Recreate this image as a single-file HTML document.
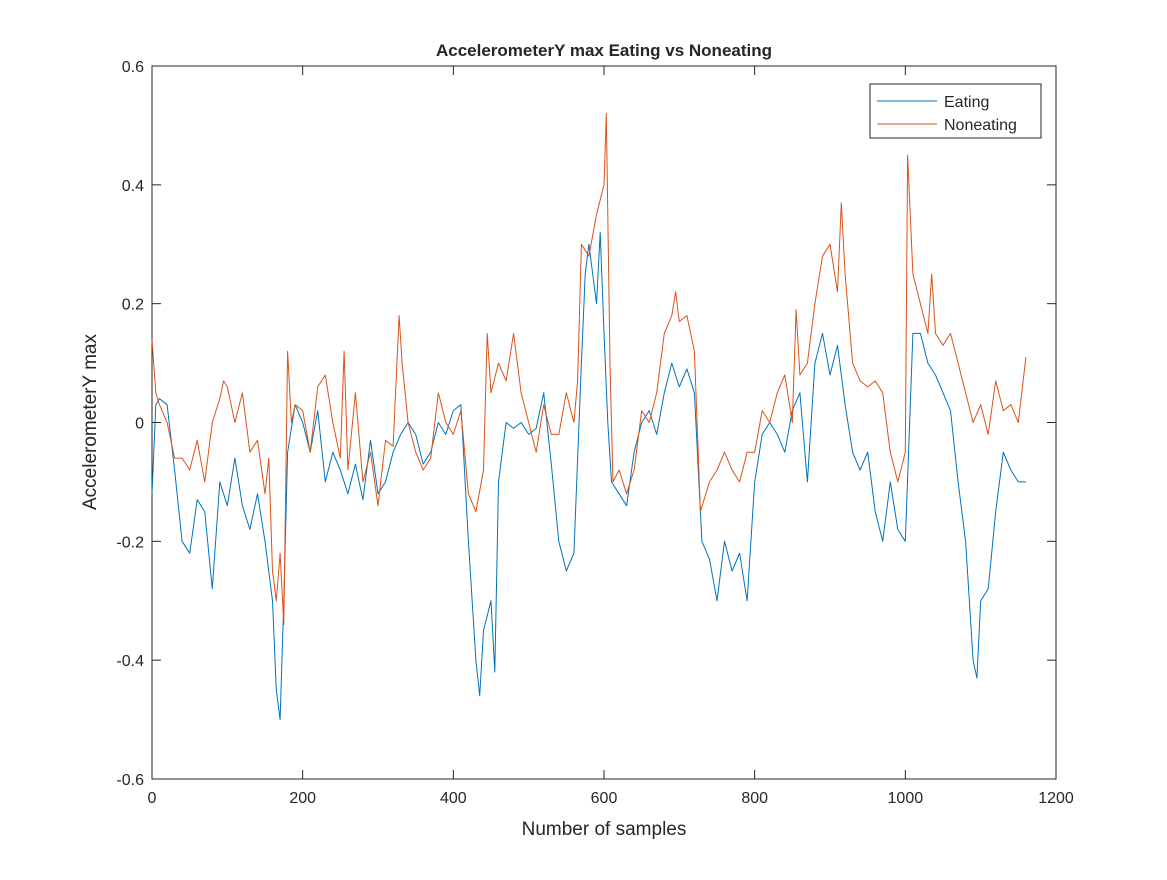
<!DOCTYPE html>
<html><head><meta charset="utf-8"><style>
body{margin:0;background:#fff;}
svg text{font-family:"Liberation Sans",Arial,sans-serif;fill:#262626;}
</style></head><body>
<svg width="1167" height="875" viewBox="0 0 1167 875" xmlns="http://www.w3.org/2000/svg">
<rect width="1167" height="875" fill="#fff"/>
<g id="plot"></g>
</svg>
<script>
const xTicks=[0,200,400,600,800,1000,1200];
const yTicks=[-0.6,-0.4,-0.2,0,0.2,0.4,0.6];
const yTickLabels=['-0.6','-0.4','-0.2','0','0.2','0.4','0.6'];
const eatingX=[0,5,10,20,30,40,50,60,70,80,90,100,110,120,130,140,150,160,165,170,175,180,190,200,210,220,230,240,250,260,270,280,290,300,310,320,330,340,350,360,370,380,390,400,410,420,430,435,440,450,455,460,470,480,490,500,510,520,530,540,550,560,570,575,580,590,595,600,605,610,620,630,640,650,660,670,680,690,700,710,720,730,740,750,760,770,780,790,800,810,820,830,840,850,860,870,880,890,900,910,920,930,940,950,960,970,980,990,1000,1010,1020,1030,1040,1050,1060,1070,1080,1090,1095,1100,1110,1120,1130,1140,1150,1160];
const eatingY=[-0.12,0.03,0.04,0.03,-0.08,-0.2,-0.22,-0.13,-0.15,-0.28,-0.1,-0.14,-0.06,-0.14,-0.18,-0.12,-0.2,-0.3,-0.45,-0.5,-0.3,-0.05,0.03,0.0,-0.05,0.02,-0.1,-0.05,-0.08,-0.12,-0.07,-0.13,-0.03,-0.12,-0.1,-0.05,-0.02,0.0,-0.02,-0.07,-0.05,0.0,-0.02,0.02,0.03,-0.2,-0.4,-0.46,-0.35,-0.3,-0.42,-0.1,0.0,-0.01,0.0,-0.02,-0.01,0.05,-0.07,-0.2,-0.25,-0.22,0.1,0.25,0.3,0.2,0.32,0.15,0.0,-0.1,-0.12,-0.14,-0.05,0.0,0.02,-0.02,0.05,0.1,0.06,0.09,0.05,-0.2,-0.23,-0.3,-0.2,-0.25,-0.22,-0.3,-0.1,-0.02,0.0,-0.02,-0.05,0.02,0.05,-0.1,0.1,0.15,0.08,0.13,0.03,-0.05,-0.08,-0.05,-0.15,-0.2,-0.1,-0.18,-0.2,0.15,0.15,0.1,0.08,0.05,0.02,-0.1,-0.2,-0.4,-0.43,-0.3,-0.28,-0.15,-0.05,-0.08,-0.1,-0.1];
const nonX=[0,5,10,20,30,40,50,60,70,80,90,95,100,110,120,130,140,150,155,160,165,170,175,180,185,190,200,210,220,230,240,250,255,260,270,280,290,300,310,320,328,332,340,350,360,370,380,390,400,410,420,430,440,445,450,460,470,480,490,500,510,520,530,540,550,560,565,570,580,590,600,603,608,612,620,630,640,650,660,670,680,690,695,700,710,720,728,740,750,760,770,780,790,800,810,820,830,840,850,855,860,870,880,890,900,910,915,920,930,940,950,960,970,980,990,1000,1003,1010,1020,1030,1035,1040,1050,1060,1070,1080,1090,1100,1110,1120,1130,1140,1150,1160];
const nonY=[0.14,0.05,0.03,0.0,-0.06,-0.06,-0.08,-0.03,-0.1,0.0,0.04,0.07,0.06,0.0,0.05,-0.05,-0.03,-0.12,-0.06,-0.25,-0.3,-0.22,-0.34,0.12,0.0,0.03,0.02,-0.05,0.06,0.08,0.0,-0.06,0.12,-0.08,0.05,-0.1,-0.05,-0.14,-0.03,-0.04,0.18,0.1,0.0,-0.05,-0.08,-0.06,0.05,0.0,-0.02,0.02,-0.12,-0.15,-0.08,0.15,0.05,0.1,0.07,0.15,0.05,0.0,-0.05,0.03,-0.02,-0.02,0.05,0.0,0.07,0.3,0.28,0.35,0.4,0.52,0.1,-0.1,-0.08,-0.12,-0.08,0.02,0.0,0.05,0.15,0.18,0.22,0.17,0.18,0.12,-0.15,-0.1,-0.08,-0.05,-0.08,-0.1,-0.05,-0.05,0.02,0.0,0.05,0.08,0.0,0.19,0.08,0.1,0.2,0.28,0.3,0.22,0.37,0.25,0.1,0.07,0.06,0.07,0.05,-0.05,-0.1,-0.05,0.45,0.25,0.2,0.15,0.25,0.15,0.13,0.15,0.1,0.05,0.0,0.03,-0.02,0.07,0.02,0.03,0.0,0.11];

const L=152,R=1056,T=66,B=779;
const xs=v=>L+(v-0)/(1200)*(R-L);
const ys=v=>B-(v+0.6)/1.2*(B-T);
const ns='http://www.w3.org/2000/svg';
const g=document.getElementById('plot');
function mk(t,a){const e=document.createElementNS(ns,t);for(const k in a)e.setAttribute(k,a[k]);g.appendChild(e);return e;}
let e=mk('rect',{x:L,y:T,width:R-L,height:B-T,fill:'none',stroke:'#262626','stroke-width':1});


xTicks.forEach(v=>{const x=xs(v);
 let t=mk('line',{x1:x,x2:x,y1:B,y2:B-9,stroke:'#262626'});
 t=mk('line',{x1:x,x2:x,y1:T,y2:T+9,stroke:'#262626'});
 const l=mk('text',{x:x,y:B+24,'text-anchor':'middle','font-size':16});l.textContent=v;
 });
yTicks.forEach((v,i)=>{const y=ys(v);
 let t=mk('line',{x1:L,x2:L+9,y1:y,y2:y,stroke:'#262626'});
 t=mk('line',{x1:R,x2:R-9,y1:y,y2:y,stroke:'#262626'});
 const l=mk('text',{x:L-8,y:y+6,'text-anchor':'end','font-size':16});l.textContent=yTickLabels[i];
 });
function series(X,Y,c,name){const d=X.map((x,i)=>(i?'L':'M')+xs(x).toFixed(1)+' '+ys(Y[i]).toFixed(1)).join('');
 const p=mk('path',{d:d,fill:'none',stroke:c,'stroke-width':1,'stroke-linejoin':'round'});
 }
series(eatingX,eatingY,'#0072BD','eating-line');
series(nonX,nonY,'#D95319','noneating-line');
let tt=mk('text',{x:604,y:56,'text-anchor':'middle','font-size':17,'font-weight':'bold',fill:'#000'});tt.textContent='AccelerometerY max Eating vs Noneating';

tt=mk('text',{x:604,y:835,'text-anchor':'middle','font-size':19});tt.textContent='Number of samples';

tt=mk('text',{x:0,y:0,'text-anchor':'middle','font-size':19,transform:'translate(96,422) rotate(-90)'});tt.textContent='AccelerometerY max';

let lg=mk('rect',{x:870,y:84,width:171,height:54,fill:'#fff',stroke:'#262626'});

[['Eating','#0072BD',101],['Noneating','#D95319',124]].forEach(([n,c,y])=>{
 let l=mk('line',{x1:877,x2:937,y1:y,y2:y,stroke:c});
 let t=mk('text',{x:944,y:y+6,'font-size':16,fill:'#000'});t.textContent=n;
 });
</script>
</body></html>
